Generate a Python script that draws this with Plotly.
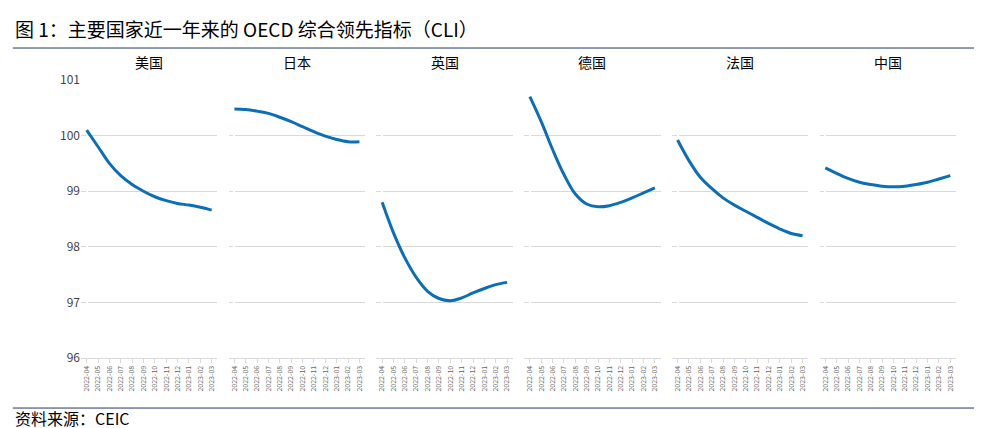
import plotly.graph_objects as go
from plotly.subplots import make_subplots

months = ["2022-04","2022-05","2022-06","2022-07","2022-08","2022-09","2022-10","2022-11","2022-12","2023-01","2023-02","2023-03"]
countries = ["美国","日本","英国","德国","法国","中国"]
us = [100.1,99.8,99.5,99.28,99.12,99.0,98.9,98.83,98.78,98.75,98.71,98.66]
jp = [100.48,100.47,100.44,100.4,100.33,100.25,100.16,100.07,99.99,99.93,99.89,99.89]
uk = [98.8,98.25,97.8,97.45,97.2,97.07,97.03,97.08,97.17,97.25,97.32,97.36]
de = [100.7,100.25,99.75,99.3,98.95,98.77,98.72,98.74,98.8,98.88,98.97,99.06]
fr = [99.92,99.55,99.25,99.05,98.88,98.75,98.64,98.53,98.42,98.32,98.24,98.2]
cn = [99.42,99.32,99.23,99.16,99.12,99.09,99.08,99.09,99.12,99.16,99.22,99.28]
series = [us, jp, uk, de, fr, cn]

font = "Noto Sans CJK SC"
fig = make_subplots(rows=1, cols=6, shared_yaxes=True, horizontal_spacing=1/77,
                    subplot_titles=countries)
for i, s in enumerate(series):
    fig.add_trace(go.Scatter(x=list(range(12)), y=s, mode="lines",
                             line=dict(color="#0a6fb8", width=3, shape="spline"),
                             showlegend=False), row=1, col=i+1)
    fig.update_xaxes(range=[-0.5, 11.5], tickmode="array", tickvals=list(range(12)),
                     ticktext=months, tickangle=-90, tickfont=dict(size=7, color="#666"),
                     showgrid=False, showline=True, linecolor="#d9d9d9", ticks="outside",
                     ticklen=4, tickcolor="#d9d9d9", row=1, col=i+1)
fig.update_yaxes(range=[96, 101], dtick=1, showgrid=True, gridcolor="#d9d9d9",
                 tickfont=dict(size=12, color="#444"), zeroline=False)
for a in fig.layout.annotations:
    a.font = dict(size=14, color="#000", family=font)
    a.yshift = 6

fig.add_annotation(text="图 1：主要国家近一年来的 OECD 综合领先指标（CLI）", xref="paper", yref="paper",
                   x=-0.078, y=1.0, yshift=36, xanchor="left", yanchor="bottom", showarrow=False,
                   font=dict(size=19, color="#000", family=font))
fig.add_annotation(text="资料来源：CEIC", xref="paper", yref="paper",
                   x=-0.078, y=0, yshift=-74, xanchor="left", yanchor="bottom", showarrow=False,
                   font=dict(size=16, color="#000", family=font))
fig.add_shape(type="line", xref="paper", yref="paper", x0=-0.078, x1=1.03, y0=1.115, y1=1.115,
              line=dict(color="#1f3864", width=1))
fig.add_shape(type="line", xref="paper", yref="paper", x0=-0.078, x1=1.03, y0=-0.18, y1=-0.18,
              line=dict(color="#1f3864", width=1))
fig.update_layout(width=982, height=428, margin=dict(l=73, r=34, t=72, b=78),
                  plot_bgcolor="white", paper_bgcolor="white", font=dict(family=font))
fig.write_html("out.html")
